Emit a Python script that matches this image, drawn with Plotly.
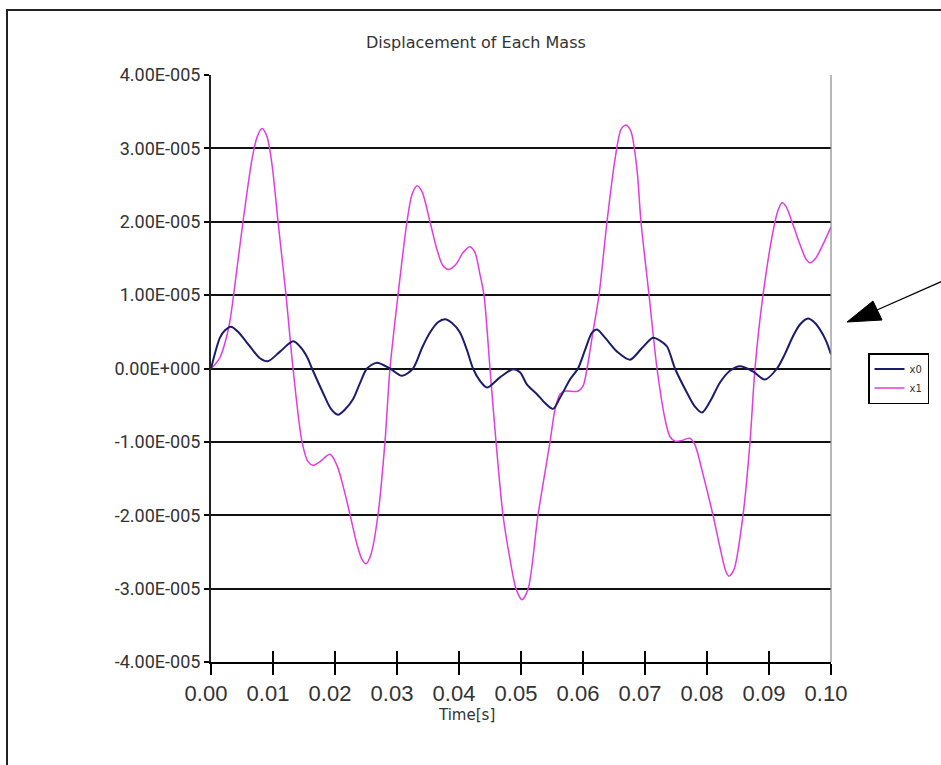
import plotly.graph_objects as go

# ---- data -------------------------------------------------------------
# time [s] and displacement (in units of 1e-5) for each mass
t_x1 = [0.0, 0.0006, 0.00145, 0.00226, 0.00306, 0.00387, 0.00516, 0.00661, 0.00742,
        0.00823, 0.00903, 0.00984, 0.01081, 0.0121, 0.01323, 0.01468, 0.01565, 0.01645,
        0.01758, 0.01919, 0.02032, 0.02145, 0.02242, 0.02355, 0.02435, 0.025, 0.02581,
        0.02694, 0.02806, 0.02887, 0.03016, 0.03161, 0.03242, 0.03323, 0.03403, 0.03532,
        0.03645, 0.03742, 0.03839, 0.03952, 0.04065, 0.04177, 0.04258, 0.04339, 0.04403,
        0.045, 0.04597, 0.0471, 0.04823, 0.04919, 0.05016, 0.05113, 0.05274, 0.05468,
        0.05548, 0.05629, 0.0571, 0.05919, 0.06, 0.06065, 0.06161, 0.06258, 0.06387,
        0.06516, 0.06613, 0.06694, 0.06774, 0.06871, 0.06935, 0.07065, 0.07194, 0.07323,
        0.07403, 0.07484, 0.07597, 0.07726, 0.07806, 0.07935, 0.08097, 0.0821, 0.08306,
        0.08355, 0.08435, 0.08581, 0.08694, 0.08774, 0.08903, 0.09097, 0.09161, 0.0921,
        0.09274, 0.09387, 0.095, 0.09597, 0.09661, 0.09758, 0.09887, 0.1]
v_x1 = [0.0, 0.05, 0.15, 0.35, 0.65, 1.15, 2.0, 2.85, 3.15,
        3.27, 3.16, 2.78, 2.0, 1.0, 0.0, -1.0, -1.27, -1.32,
        -1.27, -1.17, -1.32, -1.65, -1.99, -2.4, -2.6, -2.66, -2.53,
        -1.99, -1.0, 0.0, 1.0, 2.0, 2.37, 2.49, 2.41, 2.0,
        1.62, 1.4, 1.35, 1.42, 1.58, 1.66, 1.58, 1.28, 1.0,
        0.0, -1.0, -2.0, -2.6, -3.0, -3.15, -3.01, -2.0, -1.0,
        -0.56, -0.35, -0.31, -0.31, -0.24, 0.0, 0.5, 1.0, 2.0,
        2.85, 3.26, 3.32, 3.23, 2.71, 2.0, 1.0, 0.0, -0.69,
        -0.93, -0.99, -0.98, -0.95, -1.04, -1.44, -2.0, -2.44, -2.77,
        -2.83, -2.74, -2.0, -1.0, 0.0, 1.0, 2.0, 2.19, 2.26,
        2.21, 1.96, 1.69, 1.49, 1.44, 1.51, 1.72, 1.93]

t_x0 = [0.0, 0.00145, 0.00226, 0.00323, 0.00435, 0.00629, 0.0079, 0.00919, 0.01113,
        0.01323, 0.01435, 0.01548, 0.01629, 0.01806, 0.01935, 0.02048, 0.02161, 0.0229,
        0.02403, 0.02516, 0.02677, 0.02887, 0.03081, 0.03258, 0.03403, 0.03532, 0.03661,
        0.03774, 0.03887, 0.04016, 0.04129, 0.04226, 0.04339, 0.04452, 0.04661, 0.04871,
        0.04984, 0.05097, 0.05258, 0.05387, 0.05516, 0.05629, 0.0579, 0.05919, 0.06032,
        0.06145, 0.06226, 0.06355, 0.06548, 0.06758, 0.06952, 0.07129, 0.07242, 0.07355,
        0.07484, 0.07677, 0.07806, 0.07919, 0.08048, 0.0821, 0.08371, 0.08532, 0.08742,
        0.08935, 0.09129, 0.09258, 0.09387, 0.095, 0.09629, 0.09742, 0.09823, 0.09919, 0.1]
v_x0 = [0.0, 0.42, 0.52, 0.57, 0.5, 0.3, 0.14, 0.1, 0.23,
        0.37, 0.3, 0.16, 0.0, -0.33, -0.55, -0.63, -0.56, -0.42,
        -0.2, 0.0, 0.08, 0.0, -0.1, 0.0, 0.28, 0.49, 0.63,
        0.67, 0.62, 0.49, 0.25, 0.0, -0.17, -0.26, -0.12, -0.01,
        -0.05, -0.22, -0.35, -0.47, -0.55, -0.4, -0.15, 0.0, 0.25,
        0.49, 0.53, 0.42, 0.23, 0.12, 0.28, 0.42, 0.38, 0.3,
        0.0, -0.33, -0.52, -0.6, -0.45, -0.19, -0.03, 0.03, -0.04,
        -0.15, 0.0, 0.2, 0.44, 0.6, 0.68, 0.62, 0.53, 0.38, 0.19]

scale = 1e-5
x_ticks = [0.00, 0.01, 0.02, 0.03, 0.04, 0.05, 0.06, 0.07, 0.08, 0.09, 0.10]
x_tick_text = ["0.00", "0.01", "0.02", "0.03", "0.04", "0.05",
               "0.06", "0.07", "0.08", "0.09", "0.10"]
y_ticks = [-4e-5, -3e-5, -2e-5, -1e-5, 0.0, 1e-5, 2e-5, 3e-5, 4e-5]
y_tick_text = ["-4.00E-005", "-3.00E-005", "-2.00E-005", "-1.00E-005", "0.00E+000",
               "1.00E-005", "2.00E-005", "3.00E-005", "4.00E-005"]

# ---- figure -----------------------------------------------------------
W, H = 941, 765
L, R, T, B = 211, 110, 75, 103
PW, PH = W - L - R, H - T - B


def px(x):
    return (x - L) / PW


def py(y):
    return (H - B - y) / PH


fig = go.Figure()
fig.add_trace(go.Scatter(
    x=t_x1, y=[v * scale for v in v_x1], name="x1", mode="lines",
    line=dict(color="#e03ce0", width=1.5, shape="spline", smoothing=0.8),
    xaxis="x", yaxis="y", legendrank=2))
fig.add_trace(go.Scatter(
    x=t_x0, y=[v * scale for v in v_x0], name="x0", mode="lines",
    line=dict(color="#1c1c6c", width=2, shape="spline", smoothing=0.8),
    xaxis="x2", yaxis="y", legendrank=1))

fig.update_layout(
    width=W, height=H,
    margin=dict(l=L, r=R, t=T, b=B, pad=0),
    paper_bgcolor="white", plot_bgcolor="white",
    showlegend=True,
    xaxis=dict(range=[0, 0.1], tickmode="array", tickvals=x_ticks, ticktext=x_tick_text,
               ticks="outside", ticklen=11, tickwidth=1.5, tickcolor="black",
               showline=True, linecolor="black", linewidth=2,
               showgrid=False, zeroline=False,
               tickfont=dict(family="Liberation Sans", size=22, color="#333"),
               ticklabelshift=-5, fixedrange=True),
    xaxis2=dict(range=[0, 0.1], overlaying="x", anchor="y", side="bottom",
                tickmode="array", tickvals=x_ticks, ticks="inside", ticklen=11,
                tickwidth=1.5, tickcolor="black", showticklabels=False,
                showline=False, showgrid=False, zeroline=False),
    yaxis=dict(range=[-4e-5, 4e-5], tickmode="array", tickvals=y_ticks, ticktext=y_tick_text,
               ticks="outside", ticklen=5, tickwidth=1.5, tickcolor="black",
               showline=True, linecolor="#222", linewidth=2,
               showgrid=True, gridcolor="#111", gridwidth=1.6,
               zeroline=True, zerolinecolor="#111", zerolinewidth=1.6,
               tickfont=dict(family="Roboto", size=18, color="#333")),
    legend=dict(x=px(868), y=py(353), xanchor="left", yanchor="top",
                bgcolor="white", bordercolor="black", borderwidth=1.5,
                font=dict(family="DejaVu Sans", size=10, color="#333"),
                itemwidth=30, tracegroupgap=0),
)

# title and axis caption
fig.add_annotation(text="Displacement of Each Mass", x=px(476), y=py(42),
                   xref="paper", yref="paper", xanchor="center", yanchor="middle",
                   showarrow=False,
                   font=dict(family="DejaVu Sans", size=16, color="#333"))
fig.add_annotation(text="Time[s]", x=px(466), y=py(715),
                   xref="paper", yref="paper", xanchor="center", yanchor="middle",
                   showarrow=False,
                   font=dict(family="DejaVu Sans", size=15, color="#333"))

# outer chart frame
fig.add_shape(type="rect", xref="paper", yref="paper",
              x0=px(7), y0=py(790), x1=px(960), y1=py(10),
              line=dict(color="#222", width=2), layer="below")
# right edge of plot area
fig.add_shape(type="line", xref="paper", yref="paper",
              x0=1, y0=0, x1=1, y1=1, line=dict(color="#888", width=1.2))

# pointer arrow
fig.add_shape(type="line", xref="paper", yref="paper",
              x0=px(945), y0=py(280), x1=px(877), y1=py(310),
              line=dict(color="black", width=1.3))
fig.add_shape(type="path", xref="paper", yref="paper",
              path=f"M {px(847)} {py(322)} L {px(873)} {py(301)} L {px(882)} {py(320)} Z",
              fillcolor="black", line=dict(color="black", width=1))

fig.write_html("out.html")
